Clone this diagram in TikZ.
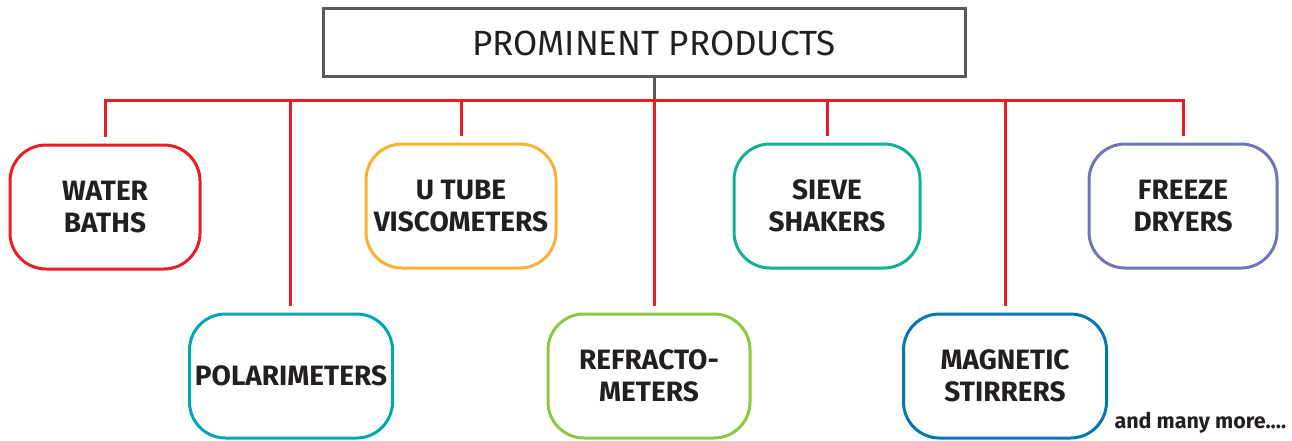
\documentclass[tikz,border=0pt]{standalone}
\usepackage{fontspec}
\setmainfont{Fira Sans}
\definecolor{linered}{HTML}{ED1C24}
\definecolor{titlegray}{HTML}{58595B}
\definecolor{textdark}{HTML}{231F20}
\definecolor{cred}{HTML}{ED1C24}
\definecolor{cteal}{HTML}{00A6B4}
\definecolor{corange}{HTML}{FBB034}
\definecolor{cgreen}{HTML}{8DC63F}
\definecolor{cjade}{HTML}{12B195}
\definecolor{cblue}{HTML}{0077B5}
\definecolor{cpurple}{HTML}{7074B8}

\begin{document}
\begin{tikzpicture}[x=1pt,y=-1pt,
	prod/.style={draw=#1, line width=3pt, rounded corners=36pt,
		minimum width=190pt, minimum height=124pt, inner sep=0pt,
		align=center, text=textdark,
		font=\bfseries\fontsize{28}{32}\selectfont},
	branch/.style={draw=linered, line width=3pt, shorten >=7pt}]
\useasboundingbox (0,0) rectangle (1292,441);

% title
\node[draw=titlegray, line width=3pt, minimum width=642pt, minimum height=68pt,
	text=textdark, font=\fontsize{35}{38}\selectfont] (title) at (644,43)
	{\hspace*{20pt}PROMINENT PRODUCTS};
\coordinate (hub) at (654,101);

% products
\node[prod=cred] (wb) at (105,207) {WATER\\BATHS};
\node[prod=cteal, minimum width=203pt] (po) at (291,376) {POLARIMETERS};
\node[prod=corange] (ut) at (461,206) {U TUBE\\VISCOMETERS};
\node[prod=cgreen, minimum width=202pt] (re) at (649,376) {REFRACTO-\\METERS};
\node[prod=cjade, minimum width=186pt] (ss) at (827,206) {SIEVE\\SHAKERS};
\node[prod=cblue, minimum width=203pt] (ms) at (1005,376) {MAGNETIC\\STIRRERS};
\node[prod=cpurple, minimum width=188pt] (fd) at (1183,206) {FREEZE\\DRYERS};

\node[anchor=base west, text=textdark, font=\bfseries\fontsize{21.5}{24}\selectfont]
	(more) at (1111,428) {and many more....};

% connectors
\draw[titlegray, line width=3pt] (title.south -| hub) -- (hub);
\draw[linered, line width=3pt, line cap=rect] (hub -| wb.north) -- (hub -| fd.north);
\foreach \n in {wb,ut,ss,fd} {
	\draw[branch] (hub -| \n.north) -- (\n.north);
}
\draw[branch] (hub -| 290,0) -- (po.north -| 290,0);
\draw[branch] (hub) -- (re.north -| hub);
\draw[branch] (hub -| ms.north) -- (ms.north);
\end{tikzpicture}
\end{document}
